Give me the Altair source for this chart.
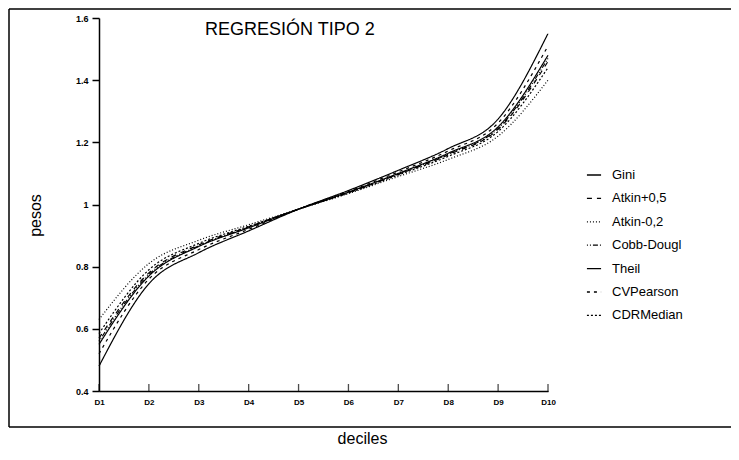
import altair as alt
import pandas as pd

deciles = ["D1", "D2", "D3", "D4", "D5", "D6", "D7", "D8", "D9", "D10"]
series_names = ["Gini", "Atkin+0,5", "Atkin-0,2", "Cobb-Dougl", "Theil", "CVPearson", "CDRMedian"]

gini = [0.55, 0.77, 0.865, 0.925, 0.985, 1.040, 1.100, 1.165, 1.250, 1.48]
atkin_p05 = [0.57, 0.78, 0.870, 0.928, 0.985, 1.038, 1.097, 1.160, 1.242, 1.46]
atkin_m02 = [0.63, 0.81, 0.885, 0.935, 0.985, 1.035, 1.090, 1.145, 1.220, 1.40]
cobb_dougl = [0.56, 0.775, 0.867, 0.927, 0.985, 1.039, 1.098, 1.162, 1.245, 1.47]
theil = [0.48, 0.745, 0.845, 0.915, 0.985, 1.045, 1.110, 1.180, 1.275, 1.55]
cv_pearson = [0.52, 0.76, 0.855, 0.920, 0.985, 1.042, 1.105, 1.172, 1.262, 1.51]
cdr_median = [0.585, 0.79, 0.875, 0.930, 0.985, 1.037, 1.095, 1.155, 1.235, 1.44]

y_ticks = [0.4, 0.6, 0.8, 1.0, 1.2, 1.4, 1.6]
title_text = "REGRESIÓN TIPO 2"

dash_styles = [[1, 0], [5, 5], [1, 2], [1, 2, 1, 2, 5, 2], [1, 0], [3, 4], [2, 2]]

values = [gini, atkin_p05, atkin_m02, cobb_dougl, theil, cv_pearson, cdr_median]
rows = []
for name, vals in zip(series_names, values):
    for d, v in zip(deciles, vals):
        rows.append({"serie": name, "decil": d, "peso": v})
df = pd.DataFrame(rows)

FONT = "Liberation Sans"

x_enc = alt.X(
    "decil:N",
    sort=deciles,
    scale=alt.Scale(type="point", padding=0, domain=deciles),
    axis=alt.Axis(
        title="deciles", labelAngle=0, ticks=False, labelPadding=7,
        labelFontSize=8, labelFontWeight="bold", labelFont=FONT,
        titleFont=FONT, titleFontSize=16, titleFontWeight="normal",
        titleX=263, titleY=52, titleBaseline="alphabetic", titleAlign="center",
        grid=False, domainColor="black", domainWidth=1.5, labelColor="black",
        titleColor="black",
    ),
)
y_enc = alt.Y(
    "peso:Q",
    scale=alt.Scale(domain=[0.4, 1.6], nice=False, zero=False),
    axis=alt.Axis(
        title="pesos", values=y_ticks, format="~g", tickSize=7, tickColor="black",
        tickWidth=1.5, labelPadding=4, labelFontSize=9, labelFontWeight="bold",
        labelFont=FONT, titleFont=FONT, titleFontSize=16, titleFontWeight="normal",
        titleX=-64, titleY=197, titleAngle=270, titleAlign="center",
        titleBaseline="middle", grid=False, domainColor="black", domainWidth=1.5,
        labelColor="black", titleColor="black",
    ),
)

lines = alt.Chart(df).mark_line(
    color="black", strokeWidth=1.2, interpolate="monotone"
).encode(
    x=x_enc,
    y=y_enc,
    strokeDash=alt.StrokeDash(
        "serie:N",
        sort=series_names,
        scale=alt.Scale(domain=series_names, range=dash_styles),
        legend=alt.Legend(
            title=None, orient="none", legendX=487, legendY=149,
            symbolType="stroke", symbolSize=200, symbolStrokeColor="black",
            symbolStrokeWidth=1.3, labelFont=FONT, labelFontSize=13,
            labelColor="black", labelOffset=10, rowPadding=8.4,
        ),
    ),
)

tick_df = pd.DataFrame({"decil": deciles, "peso": [0.4] * len(deciles)})
xticks = alt.Chart(tick_df).mark_tick(
    orient="vertical", color="black", size=8, thickness=1.3, yOffset=-3
).encode(x=alt.X("decil:N", sort=deciles), y=alt.Y("peso:Q"))

title_df = pd.DataFrame({"t": [title_text]})
title = alt.Chart(title_df).mark_text(
    align="left", baseline="alphabetic", fontSize=18, font=FONT, color="black"
).encode(text="t:N", x=alt.value(106), y=alt.value(17))

frame_df = pd.DataFrame({"k": [0]})
frame_left = alt.Chart(frame_df).mark_rule(color="black", strokeWidth=1.5).encode(
    x=alt.value(-90), y=alt.value(-9), y2=alt.value(409)
)
frame_top = alt.Chart(frame_df).mark_rule(color="black", strokeWidth=1.5).encode(
    x=alt.value(-90), x2=alt.value(640), y=alt.value(-9)
)
frame_bottom = alt.Chart(frame_df).mark_rule(color="black", strokeWidth=1.5).encode(
    x=alt.value(-90), x2=alt.value(640), y=alt.value(409)
)

chart = alt.layer(lines, xticks, title, frame_left, frame_top, frame_bottom).properties(
    width=449,
    height=373,
    padding={"left": 91, "top": 10, "right": 183, "bottom": 61},
    autosize=alt.AutoSizeParams(type="none"),
    background="white",
).configure_view(stroke=None)

chart.save("out.html", embed_options={"renderer": "svg", "actions": False})
